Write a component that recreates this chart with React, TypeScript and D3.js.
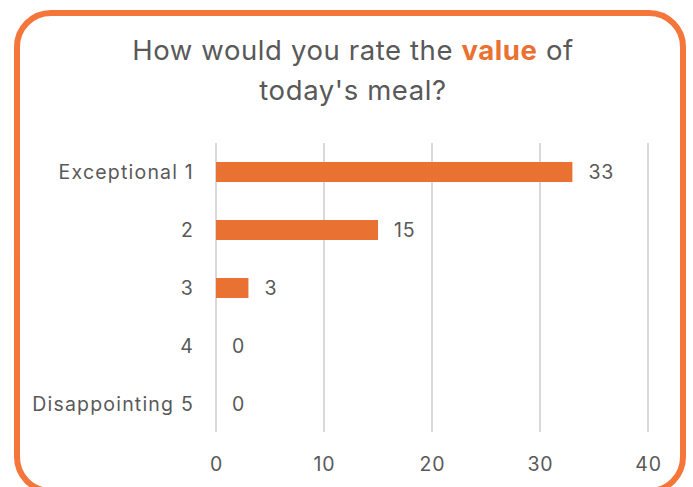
import React from "react";
import * as d3 from "d3";

const categories = ["Exceptional 1", "2", "3", "4", "Disappointing 5"];
const values = [33, 15, 3, 0, 0];
const xTicks = [0, 10, 20, 30, 40];

const W = 693;
const H = 487;
const FONT = "Inter, 'Open Sans', sans-serif";
const GREY = "#595959";
const ORANGE = "#E97132";

export default function App() {
  const x = d3.scaleLinear().domain([0, 40]).range([216, 648]);
  const y = d3.scaleBand<string>().domain(categories).range([143, 433]).paddingInner(0.655).paddingOuter(0.3275);
  const barH = 20;
  return (
    <svg width={W} height={H} style={{ position: "absolute", left: 0, top: 0 }} fontFamily={FONT}>
      <rect x={0} y={0} width={W} height={H} fill="#fff" />
      <rect x={17} y={13} width={666} height={478} rx={34} ry={34} fill="#fff" stroke="#F4763A" strokeWidth={6} />
      <text x={353} y={60} textAnchor="middle" fontSize={27.5} letterSpacing={0.6} fill={GREY}>
        How would you rate the <tspan fontWeight="bold" fill={ORANGE}>value</tspan> of
      </text>
      <text x={353} y={100} textAnchor="middle" fontSize={27.5} letterSpacing={0.6} fill={GREY}>
        today's meal?
      </text>
      {xTicks.map((t) => (
        <g key={t}>
          <line x1={x(t)} x2={x(t)} y1={143} y2={432} stroke="#D9D9D9" strokeWidth={2} />
          <text x={x(t) + 0.5} y={471} textAnchor="middle" fontSize={19.5} letterSpacing={0.8} fill={GREY}>{t}</text>
        </g>
      ))}
      {categories.map((c, i) => {
        const cy = (y(c) as number) + y.bandwidth() / 2;
        return (
          <g key={c}>
            <text x={194} y={cy + 7} textAnchor="end" fontSize={19.5} letterSpacing={1.2} fill={GREY}>{c}</text>
            {values[i] > 0 && (
              <rect x={x(0)} y={cy - barH / 2} width={x(values[i]) - x(0)} height={barH} fill={ORANGE} />
            )}
            <text x={x(values[i]) + 16} y={cy + 7} fontSize={19.5} letterSpacing={0.8} fill={GREY}>{values[i]}</text>
          </g>
        );
      })}
    </svg>
  );
}
